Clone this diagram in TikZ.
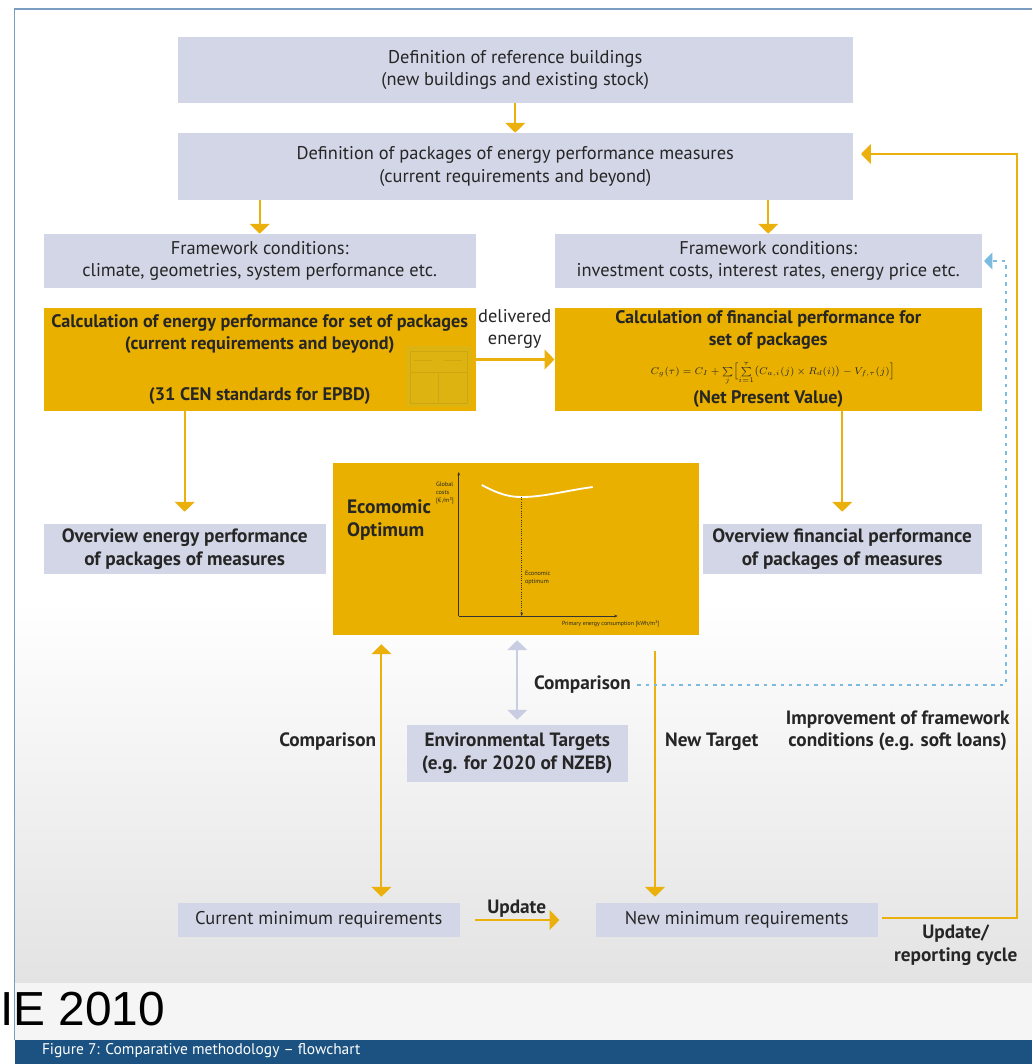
\documentclass[tikz,border=0pt]{standalone}
\usepackage{amsmath,amssymb}
\usepackage{fontspec}
\setmainfont{PT Sans}
\newfontfamily\arialfont{Liberation Sans}
\usetikzlibrary{positioning,arrows.meta,calc}

\definecolor{boxgray}{HTML}{D2D6E6}
\definecolor{gold}{HTML}{E9B000}
\definecolor{arrowgold}{HTML}{EBB00C}
\definecolor{dotblue}{HTML}{7DBAE0}
\definecolor{lilac}{HTML}{C8CDE2}
\definecolor{framebl}{HTML}{7C9DC2}
\definecolor{bandblue}{HTML}{1B5281}
\definecolor{thumb}{HTML}{DDB312}
\definecolor{txt}{HTML}{262626}

\newlength\px
\setlength\px{0.025cm}
\newcommand{\boxfont}{\fontsize{13.1}{15.8}\selectfont}
\newcommand{\tagfont}{\fontsize{13.7}{16}\selectfont\bfseries}
\newcommand{\goldfont}{\fontsize{12.9}{15.6}\selectfont\bfseries}

\begin{document}
\begin{tikzpicture}[x=0.025cm, y=-0.025cm,
    every node/.style={font=\boxfont, align=center, text=txt, inner sep=0pt},
    box/.style={rectangle, fill=boxgray},
    goldbox/.style={rectangle, fill=gold, font=\goldfont},
    tag/.style={font=\tagfont},
    chartlbl/.style={font=\fontsize{4.4}{5.6}\selectfont, align=left, anchor=west},
    arrow/.style={-{Triangle[width=14pt,length=7pt]}, line width=1.5pt, draw=arrowgold},
    dblarrow/.style={{Triangle[width=14pt,length=7pt]}-{Triangle[width=14pt,length=7pt]}, line width=1.5pt, draw=arrowgold},
    grayarrow/.style={{Triangle[width=14pt,length=7pt]}-{Triangle[width=14pt,length=7pt]}, line width=1.5pt, draw=lilac},
    dotarrow/.style={-{Triangle[width=12pt,length=6pt]}, line width=1.5pt, draw=dotblue, dash pattern=on 2.5pt off 3.5pt}
]

\fill[white] (0,0) rectangle (1028,1064);
\shade[top color=white, bottom color=black!11] (11,600) rectangle (1028,983);
\fill[black!4] (11,983) rectangle (1028,1040);
\fill[bandblue] (11,1040) rectangle (1028,1064);
\draw[framebl, line width=1.1pt] (11,1040) -- (11,9) -- (1028,9);

\node[box, minimum width=675\px, minimum height=66\px] (ref) at (511.5,70) {Definition of reference buildings\\(new buildings and existing stock)};
\node[box, minimum width=675\px, minimum height=67\px] (pkg) at (511.5,166.5) {Definition of packages of energy performance measures\\(current requirements and beyond)};
\node[box, minimum width=432\px, minimum height=54\px] (fwL) at (256,261) {Framework conditions:\\climate, geometries, system performance etc.};
\node[box, minimum width=427\px, minimum height=54\px] (fwR) at (764.5,261) {Framework conditions:\\investment costs, interest rates, energy price etc.};

\node[goldbox, minimum width=432\px, minimum height=103\px] (calcE) at (256,359.5) {Calculation of energy performance for set of packages\\(current requirements and beyond)\\[0.72cm](31 CEN standards for EPBD)};
\node[goldbox, minimum width=427\px, minimum height=103\px] (calcF) at (764.5,359.5) {};
\node[font=\goldfont] (finTitle) at (764.5,330) {Calculation of financial performance for\\set of packages};
\node[font=\fontsize{6.6}{7}\selectfont] (npv) at (769,373) {$C_g(\tau)=C_I+\sum\limits_j\Bigl[\sum\limits_{i=1}^{\tau}\bigl(C_{a,i}(j)\times R_d(i)\bigr)-V_{f,\tau}(j)\Bigr]$};
\node[font=\goldfont] (npvLbl) at (764.5,399) {(Net Present Value)};

\fill[thumb] (402,346) rectangle (467,407);
\draw[black, opacity=0.07, line width=0.3pt] (406,351) rectangle (463,403) (406,372) -- (463,372) (434,372) -- (434,403) (410,360) -- (428,360) (440,360) -- (458,360);

\node[box, minimum width=282\px, minimum height=50\px, font=\tagfont] (ovE) at (181,549) {Overview energy performance\\of packages of measures};
\node[box, minimum width=279\px, minimum height=50\px, font=\tagfont] (ovF) at (838.5,549) {Overview financial performance\\of packages of measures};

\node[goldbox, minimum width=366\px, minimum height=172\px] (opt) at (512,549) {};
\node[font=\fontsize{13.8}{16.5}\selectfont\bfseries, align=left, anchor=west] (ecoLbl) at (343,520) {Ecomomic\\Optimum};
\draw[black!80, line width=0.4pt, -{Stealth[length=2.5pt,width=2pt]}] (455,616) -- (455,472);
\draw[black!80, line width=0.4pt, -{Stealth[length=2.5pt,width=2pt]}] (455,616) -- (614,616);
\draw[white, line width=1.3pt] (478,485) .. controls (495,494) and (505,497) .. (518,497) .. controls (540,497) and (560,491) .. (589,487);
\draw[black!80, line width=0.35pt, dash pattern=on 0.8pt off 0.8pt, -{Stealth[length=2.5pt,width=2pt]}] (518,497) -- (518,616);
\node[chartlbl] (costLbl) at (432,493) {Global\\costs\\{[}€\,/m²]};
\node[chartlbl] (minLbl) at (521,578) {Economic\\optimum};
\node[chartlbl, font=\fontsize{4.2}{5}\selectfont] (xLbl) at (558,624) {Primary energy consumption [kWh/m²]};

\node[box, minimum width=221\px, minimum height=57\px, font=\tagfont] (env) at (513.5,753.5) {Environmental Targets\\(e.g. for 2020 of NZEB)};
\node[box, minimum width=282\px, minimum height=34\px] (curMin) at (315,920) {Current minimum requirements};
\node[box, minimum width=282\px, minimum height=34\px] (newMin) at (733,920) {New minimum requirements};

\node (delv) at (511,329) {delivered\\energy};
\node[tag] (cmpL) at (324,742) {Comparison};
\node[tag, anchor=west] (cmpR) at (530,685) {Comparison};
\node[tag] (newT) at (708,742) {New Target};
\node[tag] (impr) at (894,731) {Improvement of framework\\conditions (e.g. soft loans)};
\node[tag] (upd) at (513,909) {Update};
\node[tag] (updCyc) at (952,945) {Update/\\reporting cycle};

\coordinate (cmpTop) at ($(opt.south west)+(49,0)$);
\coordinate (ntTop) at ($(opt.south east)+(-44,16)$);
\coordinate (loopTop) at (1013,154);
\coordinate (dotTop) at (1002,261);

\draw[arrow] (ref) -- (pkg);
\draw[arrow] (pkg.south -| fwL) -- (fwL);
\draw[arrow] (pkg.south -| fwR) -- (fwR);
\draw[arrow] (calcE) -- (calcF);
\draw[arrow, shorten >=12\px] (calcE.south -| ovE) -- (ovE);
\draw[arrow, shorten >=12\px] (calcF.south -| ovF) -- (ovF);
\draw[dblarrow, shorten <=9\px, shorten >=6\px] (cmpTop) -- (cmpTop |- curMin.north);
\draw[grayarrow, shorten <=5\px, shorten >=5\px] (env.north |- opt.south) -- (env);
\draw[arrow, shorten >=6\px] (ntTop) -- (ntTop |- newMin.north);
\draw[arrow, shorten <=15\px, shorten >=36\px] (curMin) -- (newMin);
\draw[arrow, shorten <=4\px, shorten >=8\px] ($(newMin.east)+(0,-2)$) -| (loopTop) -- (pkg.east |- loopTop);
\draw[dotarrow, shorten <=6\px, shorten >=2\px] (cmpR.east) -| (dotTop) -- (fwR.east);

\node[font=\arialfont\fontsize{34}{34}\selectfont, text=black, anchor=base west] (ie) at (-4,1025) {IE 2010};
\node[font=\fontsize{11}{13}\selectfont, text=white, anchor=base west] (caption) at (38,1054) {Figure 7: Comparative methodology – flowchart};

\useasboundingbox (0,0) rectangle (1028,1064);
\end{tikzpicture}
\end{document}
